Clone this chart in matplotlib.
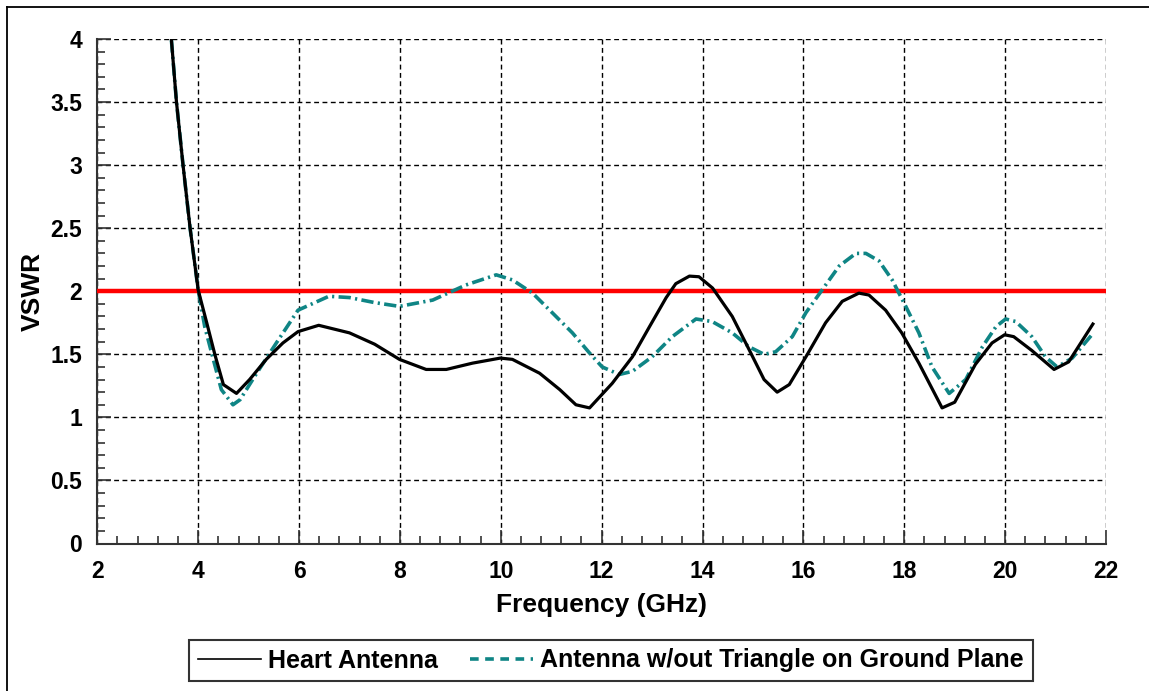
import matplotlib
matplotlib.use("Agg")
import matplotlib.pyplot as plt
from matplotlib.lines import Line2D
from matplotlib.ticker import MultipleLocator

# ---- data ----
heart_freq = [3.47, 3.57, 3.70, 3.84, 4.00, 4.17, 4.33, 4.50, 4.76, 5.02, 5.35, 5.68,
              5.98, 6.39, 7.00, 7.50, 7.99, 8.52, 8.92, 9.44, 9.99, 10.23, 10.77, 11.17,
              11.49, 11.76, 12.21, 12.61, 12.95, 13.28, 13.47, 13.74, 13.93, 14.20, 14.59,
              14.92, 15.22, 15.48, 15.72, 16.05, 16.44, 16.77, 17.10, 17.30, 17.63, 17.95,
              18.29, 18.75, 19.00, 19.41, 19.74, 19.99, 20.17, 20.53, 20.97, 21.26, 21.74]
heart_vswr = [3.99, 3.50, 3.00, 2.50, 2.01, 1.75, 1.50, 1.26, 1.19, 1.30, 1.46, 1.59,
              1.68, 1.73, 1.67, 1.58, 1.46, 1.38, 1.38, 1.43, 1.47, 1.46, 1.35, 1.22,
              1.10, 1.075, 1.27, 1.48, 1.72, 1.95, 2.06, 2.12, 2.115, 2.025, 1.80,
              1.54, 1.30, 1.20, 1.26, 1.48, 1.75, 1.92, 1.985, 1.97, 1.85, 1.67,
              1.43, 1.075, 1.12, 1.42, 1.59, 1.655, 1.64, 1.53, 1.38, 1.44, 1.74]

notri_freq = [3.47, 3.57, 3.70, 3.84, 4.00, 4.13, 4.30, 4.46, 4.69, 4.83, 5.16, 5.55,
              5.98, 6.59, 7.00, 7.50, 7.99, 8.65, 9.31, 9.91, 10.23, 10.63, 11.02, 11.42,
              11.76, 12.01, 12.35, 12.61, 13.00, 13.40, 13.87, 14.19, 14.59, 14.92, 15.22,
              15.45, 15.78, 16.05, 16.37, 16.71, 17.04, 17.24, 17.50, 17.76, 18.03, 18.29,
              18.55, 18.89, 19.22, 19.55, 19.82, 20.01, 20.21, 20.53, 20.80, 21.03, 21.33,
              21.72]
notri_vswr = [3.99, 3.50, 3.00, 2.50, 2.01, 1.72, 1.46, 1.22, 1.10, 1.14, 1.35, 1.59,
              1.85, 1.96, 1.95, 1.91, 1.88, 1.93, 2.05, 2.13, 2.09, 1.985, 1.83, 1.67,
              1.51, 1.40, 1.34, 1.365, 1.48, 1.64, 1.78, 1.76, 1.67, 1.56, 1.50,
              1.52, 1.64, 1.83, 2.01, 2.20, 2.30, 2.30, 2.24, 2.09, 1.88, 1.67,
              1.40, 1.19, 1.30, 1.56, 1.72, 1.78, 1.76, 1.64, 1.48, 1.40, 1.47,
              1.655]

threshold_vswr = 2.0

x_ticks = [2, 4, 6, 8, 10, 12, 14, 16, 18, 20, 22]
x_tick_labels = ["2", "4", "6", "8", "10", "12", "14", "16", "18", "20", "22"]
y_ticks = [0, 0.5, 1, 1.5, 2, 2.5, 3, 3.5, 4]
y_tick_labels = ["0", "0.5", "1", "1.5", "2", "2.5", "3", "3.5", "4"]

series_labels = ["Heart Antenna", "Antenna w/out Triangle on Ground Plane"]

# ---- figure ----
plt.rcParams['font.family'] = ['Liberation Sans', 'DejaVu Sans']
W, H = 1149, 691
fig = plt.figure(figsize=(W / 100, H / 100), dpi=100)
ax = fig.add_axes([97.3 / W, 1 - 543.5 / H, (1106 - 97.3) / W, (543.5 - 39) / H])

teal = '#0f8585'
ax.axhline(threshold_vswr, color='#ff0000', lw=3.2, zorder=3)
ax.plot(notri_freq, notri_vswr, color=teal, lw=2.6,
        linestyle=(0, (3.4, 1.2, 0.6, 1.2)), zorder=4)
ax.plot(heart_freq, heart_vswr, color='black', lw=2.3, zorder=5)

ax.set_xlim(2, 22)
ax.set_ylim(0, 4)
ax.set_xticks(x_ticks)
ax.set_xticklabels(x_tick_labels)
ax.set_yticks(y_ticks)
ax.set_yticklabels(y_tick_labels)
ax.xaxis.set_minor_locator(MultipleLocator(0.4))
ax.yaxis.set_minor_locator(MultipleLocator(0.1))

for lab in ax.get_xticklabels() + ax.get_yticklabels():
    lab.set_fontweight('bold')
ax.tick_params(axis='both', which='both', direction='in', top=False, right=False,
               labelsize=16.5, colors='#333333', labelcolor='black')
ax.tick_params(axis='both', which='major', length=10, width=1.2)
ax.tick_params(axis='both', which='minor', length=6, width=1.2)
ax.tick_params(axis='x', which='major', pad=12)
ax.tick_params(axis='y', which='major', pad=11)

ax.grid(True, which='major', color='black', lw=1.0, linestyle=(0, (3.5, 2.5)))
ax.set_axisbelow(True)
for s in ['top', 'right']:
    ax.spines[s].set_visible(False)
for s in ['left', 'bottom']:
    ax.spines[s].set_color('#333333')
    ax.spines[s].set_linewidth(1.5)

ax.set_xlabel("Frequency (GHz)", fontsize=19, fontweight='bold')
ax.set_ylabel("VSWR", fontsize=19, fontweight='bold')
ax.xaxis.set_label_coords(0.5, -0.098)
ax.yaxis.set_label_coords(-0.052, 0.5)

handles = [Line2D([], [], color='black', lw=1.2),
           Line2D([], [], color=teal, lw=2.6, linestyle=(0, (2.4, 1.8)))]
leg = fig.legend(handles, series_labels, loc='center',
                 bbox_to_anchor=(611 / W, 1 - 660.5 / H), ncol=2,
                 prop={'family': 'Liberation Sans', 'weight': 'bold', 'size': 18},
                 frameon=True, fancybox=False, edgecolor='black',
                 handlelength=2.5, handletextpad=0.3, columnspacing=1.3,
                 borderpad=0.35, borderaxespad=0)
leg.get_frame().set_linewidth(1.5)

# outer frame (left & top edges visible)
fig.add_artist(Line2D([7 / W, 7 / W], [0, 1 - 7 / H], transform=fig.transFigure,
                      color='black', lw=1.3))
fig.add_artist(Line2D([7 / W, 1], [1 - 7 / H, 1 - 7 / H], transform=fig.transFigure,
                      color='black', lw=1.3))

fig.savefig("out.png", dpi=100)
